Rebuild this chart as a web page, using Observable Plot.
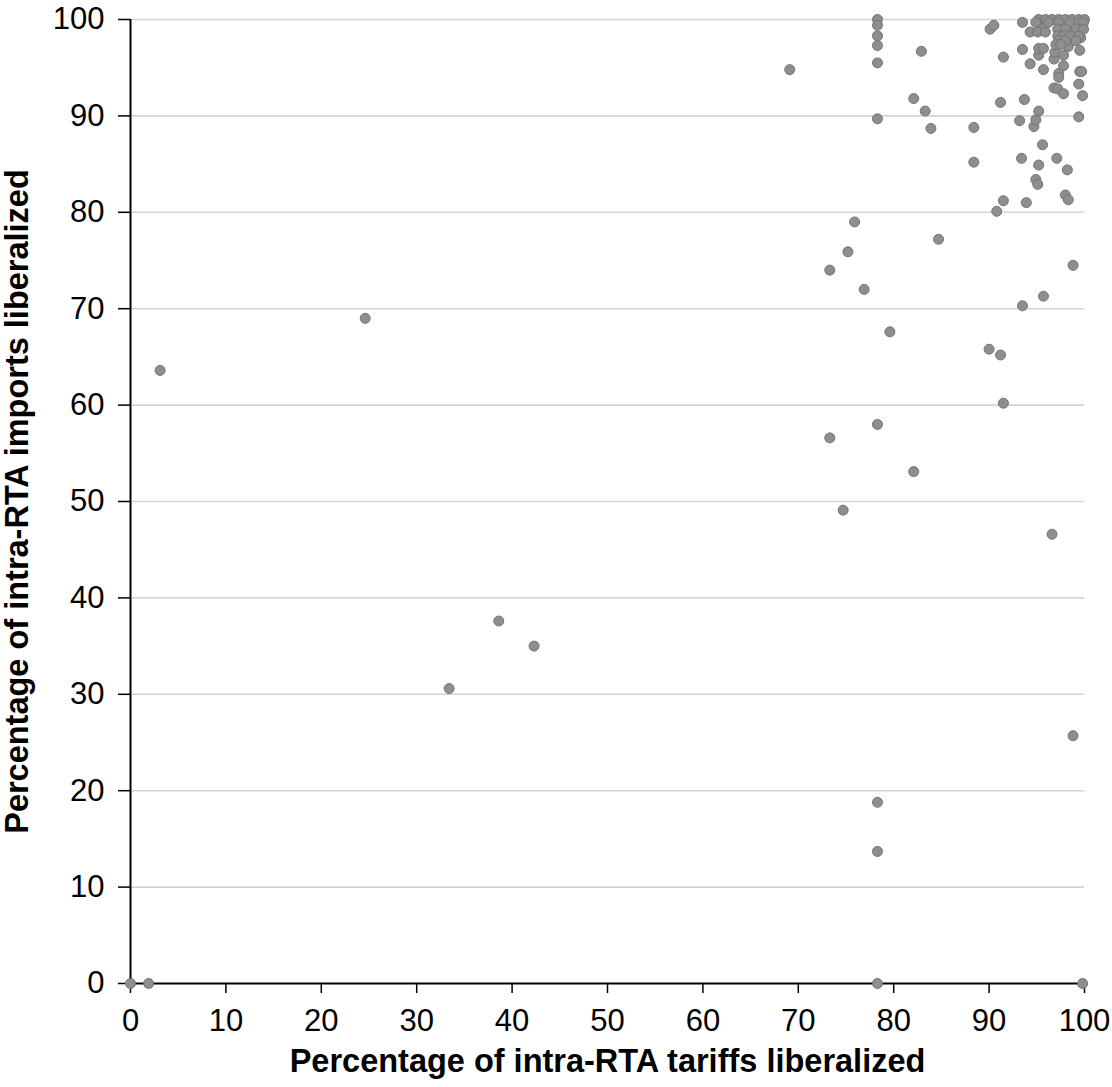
<!DOCTYPE html>
<html>
<head>
<meta charset="utf-8">
<script src="https://cdn.jsdelivr.net/npm/d3@7"></script>
<script src="https://cdn.jsdelivr.net/npm/@observablehq/plot@0.6"></script>
<style>
  html, body { margin: 0; padding: 0; background: #fff; }
  #chart svg { display: block; }
</style>
</head>
<body>
<div id="chart"></div>
<script>
// Percentage of intra-RTA tariffs liberalized (x) vs imports liberalized (y)
const tariffs = [
  0, 1.9, 3.1, 24.6, 33.4, 38.6, 42.3, 69.1,
  78.3, 78.3, 78.3, 78.3, 78.3, 78.3, 78.3, 78.3, 78.3, 78.3,
  73.3, 73.3, 74.7, 75.2, 75.9, 76.9, 79.6, 82.1, 82.1, 82.9, 83.3, 83.9, 84.7,
  88.4, 88.4, 90.1, 90.5, 90.0, 90.8, 91.2, 91.2, 91.5, 91.5, 91.5,
  93.2, 93.4, 93.5, 93.5, 93.5, 93.7, 93.9,
  94.3, 94.7, 94.9, 95.2, 94.9, 95.1, 95.2, 95.6, 95.7, 95.7, 95.2, 95.2, 95.7,
  96.6, 96.8, 96.9, 97.1, 97.3, 97.3, 96.8, 97.2, 97.8, 97.8, 97.8,
  98.0, 98.2, 98.3, 98.3, 98.8, 98.8, 99.4, 99.4, 99.5, 99.8, 99.5, 99.6, 99.8, 99.7,
  95.2, 95.9, 96.6, 97.3, 98.0, 98.7, 99.4, 100,
  94.9, 96.2, 97.3, 98.5, 99.4, 99.9,
  95.6, 97.2, 98.0, 99.1, 99.9,
  94.3, 95.1, 95.9,
  97.2, 97.8, 98.5, 99.4,
  97.3, 98.0, 99.1,
  97.0, 97.5
];
const imports = [
  0, 0, 63.6, 69.0, 30.6, 37.6, 35.0, 94.8,
  100, 99.4, 98.3, 97.3, 95.5, 89.7, 58.0, 18.8, 13.7, 0,
  74.0, 56.6, 49.1, 75.9, 79.0, 72.0, 67.6, 53.1, 91.8, 96.7, 90.5, 88.7, 77.2,
  88.8, 85.2, 99.0, 99.4, 65.8, 80.1, 65.2, 91.4, 96.1, 81.2, 60.2,
  89.5, 85.6, 99.7, 96.9, 70.3, 91.7, 81.0,
  95.4, 88.9, 89.6, 90.5, 83.4, 82.9, 84.9, 87.0, 71.3, 94.8, 96.3, 97.0, 97.0,
  46.6, 95.9, 96.6, 85.6, 94.4, 94.0, 92.9, 92.8, 92.3, 96.3, 95.2,
  81.8, 84.4, 81.3, 97.2, 74.5, 25.7, 89.9, 93.3, 94.6, 92.1, 96.8, 98.1, 0, 94.6,
  100, 100, 100, 100, 100, 100, 100, 100,
  99.7, 99.7, 99.7, 99.7, 99.7, 99.7,
  99.0, 99.0, 99.0, 99.0, 99.0,
  98.7, 98.7, 98.7,
  98.3, 98.3, 98.3, 98.3,
  97.8, 97.8, 97.8,
  97.4, 97.4
];
const xTicks = [0, 10, 20, 30, 40, 50, 60, 70, 80, 90, 100];
const yTicks = [0, 10, 20, 30, 40, 50, 60, 70, 80, 90, 100];
const xTitle = "Percentage of intra-RTA tariffs liberalized";
const yTitle = "Percentage of intra-RTA imports liberalized";

const data = tariffs.map((t, i) => ({x: t, y: imports[i]}));
const font = "'Liberation Sans', Arial, Helvetica, sans-serif";

const chart = Plot.plot({
  width: 1112,
  height: 1087,
  marginLeft: 130,
  marginRight: 28,
  marginTop: 19,
  marginBottom: 104,
  style: {fontFamily: font, fontSize: "31px", color: "#000", background: "#fff"},
  x: {domain: [0, 100]},
  y: {domain: [0, 100]},
  marks: [
    Plot.gridY(yTicks.filter(d => d > 0), {stroke: "#d4d4d4", strokeOpacity: 1, strokeWidth: 1.6}),
    Plot.axisX(xTicks, {tickSize: 10, tickPadding: 15, label: null, stroke: "#000", strokeWidth: 1.5, fontSize: 31}),
    Plot.axisY(yTicks, {tickSize: 12, tickPadding: 14, label: null, stroke: "#000", strokeWidth: 1.5, fontSize: 31}),
    Plot.ruleX([0], {y1: 0, y2: 100, stroke: "#000", strokeWidth: 2}),
    Plot.ruleY([0], {x1: 0, x2: 100, stroke: "#000", strokeWidth: 2}),
    Plot.dot(data, {x: "x", y: "y", r: 5, fill: "#8e8e8e", stroke: "#747474", strokeWidth: 1, fillOpacity: 1}),
    Plot.text([xTitle], {frameAnchor: "bottom", textAnchor: "middle", lineAnchor: "middle", dy: 78, fontWeight: "bold", fontSize: 32.5, fill: "#000"}),
    Plot.text([yTitle], {frameAnchor: "left", textAnchor: "middle", lineAnchor: "middle", dx: -113, rotate: -90, fontWeight: "bold", fontSize: 32.5, fill: "#000"})
  ]
});
document.getElementById("chart").appendChild(chart);
</script>
</body>
</html>
